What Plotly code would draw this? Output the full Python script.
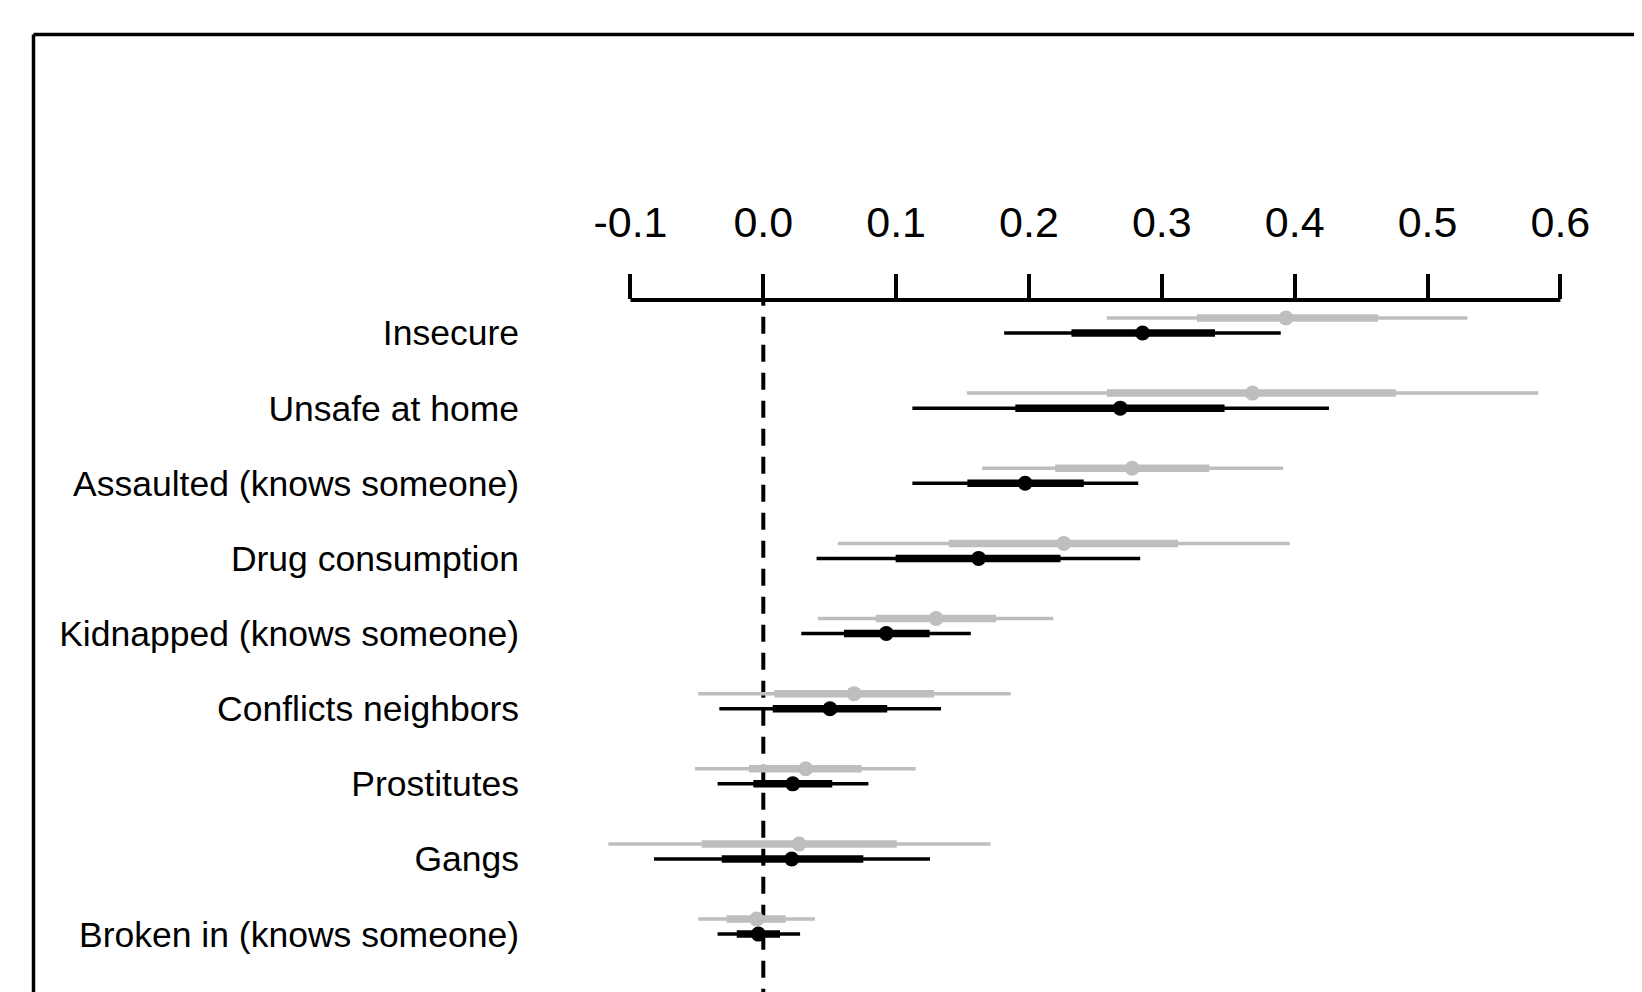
import plotly.graph_objects as go

categories = ["Insecure", "Unsafe at home", "Assaulted (knows someone)", "Drug consumption",
              "Kidnapped (knows someone)", "Conflicts neighbors", "Prostitutes", "Gangs",
              "Broken in (knows someone)"]

# black series (estimate, 50% interval, 95% interval)
black_est = [0.2855, 0.2687, 0.1971, 0.1621, 0.0926, 0.0502, 0.0222, 0.0214, -0.0037]
black_lo50 = [0.232, 0.1897, 0.1536, 0.0996, 0.0607, 0.0071, -0.0075, -0.0313, -0.0200]
black_hi50 = [0.340, 0.3472, 0.2412, 0.2237, 0.1252, 0.0933, 0.0519, 0.0753, 0.0126]
black_lo95 = [0.1813, 0.1122, 0.1122, 0.0401, 0.0286, -0.0331, -0.0344, -0.0823, -0.0344]
black_hi95 = [0.3895, 0.4258, 0.2822, 0.2837, 0.1562, 0.1338, 0.0791, 0.1255, 0.0277]

# gray series
gray_est = [0.3934, 0.3682, 0.2777, 0.2262, 0.1301, 0.0683, 0.0319, 0.0269, -0.0050]
gray_lo50 = [0.3264, 0.2586, 0.2197, 0.1396, 0.0846, 0.0083, -0.0108, -0.0464, -0.0276]
gray_hi50 = [0.4628, 0.4761, 0.3357, 0.3122, 0.1752, 0.1285, 0.0740, 0.1004, 0.0169]
gray_lo95 = [0.2586, 0.1532, 0.1647, 0.0561, 0.0411, -0.0489, -0.0514, -0.1167, -0.0489]
gray_hi95 = [0.530, 0.5833, 0.3913, 0.3963, 0.2182, 0.1862, 0.1147, 0.1711, 0.0389]

tick_vals = [-0.1, 0.0, 0.1, 0.2, 0.3, 0.4, 0.5, 0.6]
tick_text = ["-0.1", "0.0", "0.1", "0.2", "0.3", "0.4", "0.5", "0.6"]

GRAY = "#BEBEBE"
FONT = "Liberation Sans, Arial, sans-serif"
rows = list(range(len(categories)))
gray_offset = -0.2


def segs(lo, hi, ys):
    xs, yy = [], []
    for a, b, y in zip(lo, hi, ys):
        xs += [a, b, None]
        yy += [y, y, None]
    return xs, yy


fig = go.Figure()
for lo95, hi95, lo50, hi50, est, color, off in [
    (gray_lo95, gray_hi95, gray_lo50, gray_hi50, gray_est, GRAY, gray_offset),
    (black_lo95, black_hi95, black_lo50, black_hi50, black_est, "black", 0.0),
]:
    ys = [r + off for r in rows]
    x1, y1 = segs(lo95, hi95, ys)
    fig.add_trace(go.Scatter(x=x1, y=y1, mode="lines", line=dict(color=color, width=3.5),
                             hoverinfo="skip", showlegend=False))
    x2, y2 = segs(lo50, hi50, ys)
    fig.add_trace(go.Scatter(x=x2, y=y2, mode="lines", line=dict(color=color, width=7.5),
                             hoverinfo="skip", showlegend=False))
    fig.add_trace(go.Scatter(x=est, y=ys, mode="markers",
                             marker=dict(color=color, size=15, line=dict(width=0)),
                             showlegend=False))

# page body has an 8px margin, so figure coordinates are offset by 8px
W, H = 1634, 984
L, T = 514, 292
x_zero_px, x_unit_px = 755.3, 1328.5
y0_px, y_step = 325.0, 75.14

xr = [(L - x_zero_px) / x_unit_px, (W - x_zero_px) / x_unit_px]
yr = [(H - y0_px) / y_step, (T - y0_px) / y_step]

frame_x = (25.5 - L) / (W - L)
frame_y = (H - 26.5) / (H - T)

fig.update_layout(
    width=W, height=H,
    margin=dict(l=L, r=0, t=T, b=0, autoexpand=False),
    paper_bgcolor="white", plot_bgcolor="white",
    xaxis=dict(range=xr, side="top", tickvals=tick_vals, ticktext=tick_text,
               ticks="outside", ticklen=25, tickwidth=3.5, tickcolor="black",
               showline=False, showgrid=False, zeroline=False,
               tickfont=dict(family=FONT, size=43, color="black"),
               automargin=False, ticklabelstandoff=20),
    yaxis=dict(range=yr, tickvals=rows, ticktext=categories, ticks="",
               showline=False, showgrid=False, zeroline=False,
               tickfont=dict(family=FONT, size=35.5, color="black"),
               automargin=False, ticklabelstandoff=2),
    shapes=[
        # axis line spanning the tick range
        dict(type="line", xref="x", yref="paper", x0=tick_vals[0], x1=tick_vals[-1], y0=1, y1=1,
             line=dict(color="black", width=4), layer="above"),
        # dashed zero reference line
        dict(type="line", xref="x", yref="paper", x0=0, x1=0, y0=-0.02, y1=1,
             line=dict(color="black", width=4, dash="17px,11px"), layer="below"),
        # frame (top and left edges)
        dict(type="line", xref="paper", yref="paper", x0=frame_x, x1=1.05,
             y0=frame_y, y1=frame_y, line=dict(color="black", width=3.5)),
        dict(type="line", xref="paper", yref="paper", x0=frame_x, x1=frame_x,
             y0=frame_y, y1=-0.05, line=dict(color="black", width=3.5)),
    ],
)

fig.write_html("out.html")
